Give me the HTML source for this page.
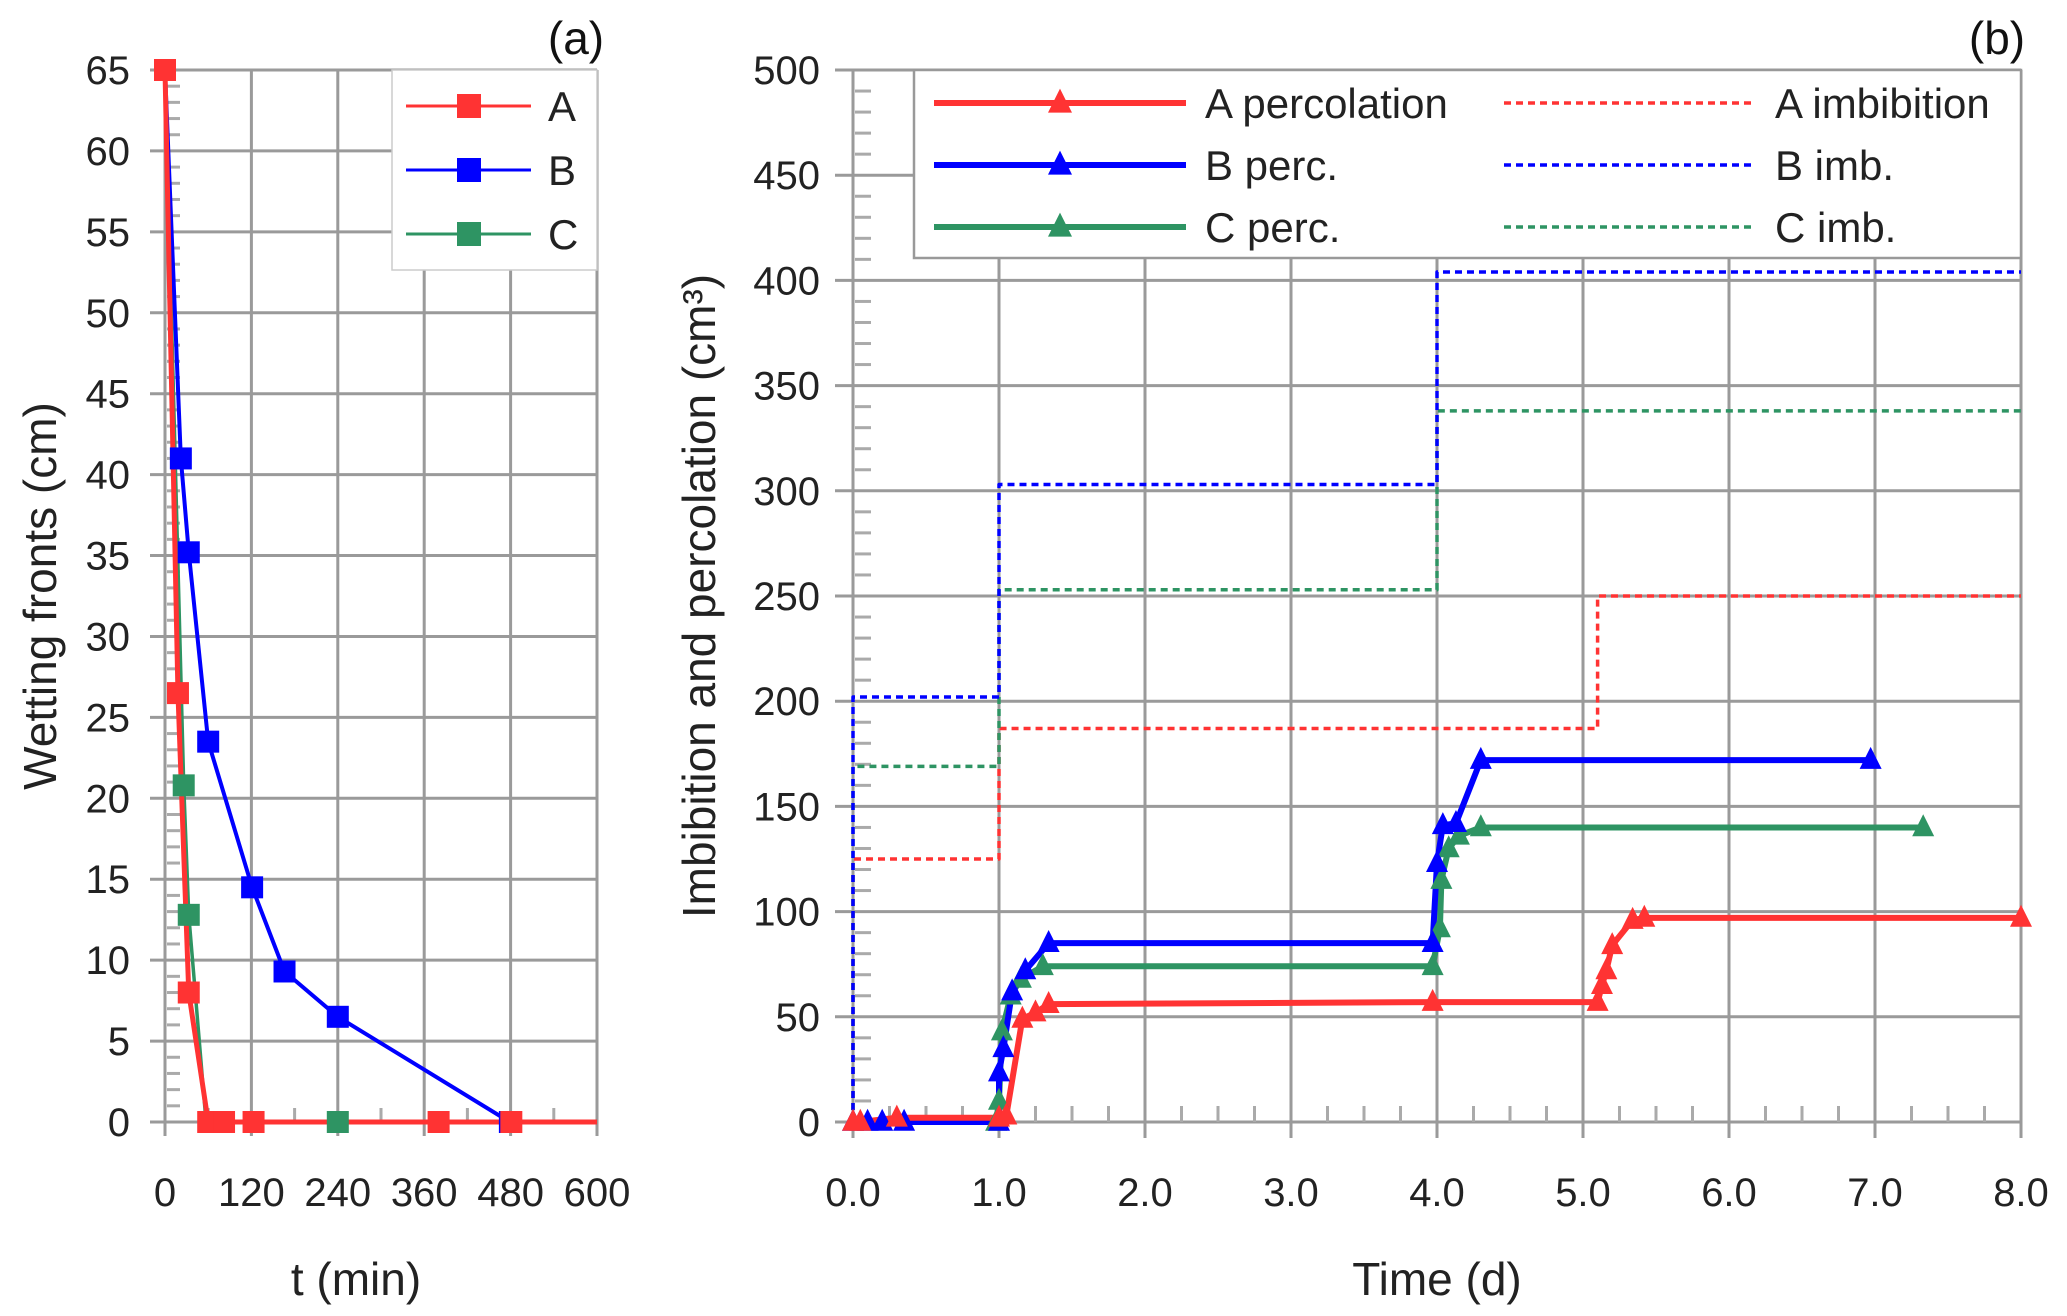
<!DOCTYPE html>
<html><head><meta charset="utf-8"><style>
html,body{margin:0;padding:0;background:#fff}
svg{display:block;font-family:"Liberation Sans",Arial,sans-serif}
</style></head><body>
<svg id="chart" width="2067" height="1316" viewBox="0 0 2067 1316" xmlns="http://www.w3.org/2000/svg">
<g id="pa"></g>
<g id="pb"></g>
</svg>
<script>
// Panel (a) data
const aTicksX = [0,120,240,360,480,600];
const aTicksY = [0,5,10,15,20,25,30,35,40,45,50,55,60,65];
const aA_t = [0,18,33,60,82,123,380,481,600];
const aA_y = [65,26.5,8,0,0,0,0,0,0];
const aA_mk = [0,18,33,60,82,123,380,481];
const aA_mky = [65,26.5,8,0,0,0,0,0];
const aB_t = [0,22,33,60,121,166,240,479];
const aB_y = [65,41,35.2,23.5,14.5,9.3,6.5,0];
const aC_t = [0,26,33,57,240];
const aC_y = [65,20.8,12.8,0,0];
const aC_mk = [26,33,240];
const aC_mky = [20.8,12.8,0];

// Panel (b) data
const bTicksX = [0,1,2,3,4,5,6,7,8];
const bTicksY = [0,50,100,150,200,250,300,350,400,450,500];
const impA_t = [0,0,1,1,5.1,5.1,8];
const impA_y = [0,125,125,187,187,250,250];
const impB_t = [0,0,1,1,4,4,8];
const impB_y = [0,202,202,303,303,404,404];
const impC_t = [0,0,1,1,4,4,8];
const impC_y = [0,169,169,253,253,338,338];
const percA_t = [0,0.05,0.3,1.0,1.05,1.16,1.25,1.34,3.97,5.1,5.13,5.16,5.2,5.34,5.42,8.0];
const percA_y = [0,0,2,2,3,49,52,56,57,57,65,72,84,96,97,97];
const percB_t = [0,0.1,0.2,0.35,1.0,1.0,1.03,1.09,1.18,1.34,3.97,4.0,4.04,4.13,4.3,6.97];
const percB_y = [0,0,0,0,0,23.5,35,62,72,85,85,123,141,142,172,172];
const percC_t = [0.98,1.0,1.02,1.08,1.15,1.3,3.97,4.02,4.03,4.08,4.15,4.3,7.33];
const percC_y = [0,10,43,60,68,74,74,92,115,130,136,140,140];

const NS="http://www.w3.org/2000/svg";
function mk(parent,tag,attrs){const e=document.createElementNS(NS,tag);for(const k in attrs)e.setAttribute(k,attrs[k]);parent.appendChild(e);return e;}
const GRID="#9a9a9a", TXT="#222";
const TF=40, AF=46, LF=42;

// ---------- Panel a ----------
const pa=document.getElementById('pa');
const ax=t=>165+(t/600)*(597-165);
const ay=v=>1122-(v/65)*(1122-70);
for(const v of aTicksY){
  const l=mk(pa,'line',{x1:150,x2:597,y1:ay(v),y2:ay(v),stroke:GRID,'stroke-width':3});
  
  
  const t=mk(pa,'text',{x:130,y:ay(v)+14,'text-anchor':'end','font-size':TF,fill:TXT});
  t.textContent=v;
  
  
}
for(let v=0;v<65;v++){ if(v%5) {const l=mk(pa,'line',{x1:167,x2:180,y1:ay(v),y2:ay(v),stroke:"#aaa",'stroke-width':3});
  
  }}
for(let v=60;v<600;v+=60){ if(v%120){const l=mk(pa,'line',{x1:ax(v),x2:ax(v),y1:1108,y2:1122,stroke:"#aaa",'stroke-width':3});
  
  }}
for(const v of aTicksX){
  const l=mk(pa,'line',{x1:ax(v),x2:ax(v),y1:70,y2:1136,stroke:GRID,'stroke-width':3});
  
  
  const t=mk(pa,'text',{x:ax(v),y:1206,'text-anchor':'middle','font-size':TF,fill:TXT});
  t.textContent=v;
  
  
}
function poly(g,xs,ys,fx,fy,color,w,dash){
  const pts=xs.map((x,i)=>fx(x)+','+fy(ys[i])).join(' ');
  const a={points:pts,fill:'none',stroke:color,'stroke-width':w,'stroke-linejoin':'round'};
  if(dash)a['stroke-dasharray']=dash;
  return mk(g,'polyline',a);
}
function sq(g,x,y,c,s){return mk(g,'rect',{x:x-s/2,y:y-s/2,width:s,height:s,fill:c});}
const cR="#ff3333",cB="#0000ff",cG="#2e9463";
let p;
p=poly(pa,aC_t,aC_y,ax,ay,cG,3.5);


p=poly(pa,aB_t,aB_y,ax,ay,cB,4);


p=poly(pa,aA_t,aA_y,ax,ay,cR,5);


aC_mk.forEach((t,i)=>{const r=sq(pa,ax(t),ay(aC_mky[i]),cG,22);
  
  });
aB_t.forEach((t,i)=>{const r=sq(pa,ax(t),ay(aB_y[i]),cB,22);
  
  });
aA_mk.forEach((t,i)=>{const r=sq(pa,ax(t),ay(aA_mky[i]),cR,22);
  
  });
// legend a
const lga=mk(pa,'g',{});


mk(lga,'rect',{x:392,y:70,width:205,height:200,fill:'#fff',stroke:'#ccc','stroke-width':1.5});
[['A',cR],['B',cB],['C',cG]].forEach((d,i)=>{
  const y=106+i*64;
  const g=mk(lga,'g',{});
  
  
  mk(g,'line',{x1:406,x2:531,y1:y,y2:y,stroke:d[1],'stroke-width':3});
  sq(g,469,y,d[1],24);
  const t=mk(g,'text',{x:548,y:y+15,'font-size':LF,fill:TXT});t.textContent=d[0];
});
let tt=mk(pa,'text',{x:356,y:1295,'text-anchor':'middle','font-size':AF,fill:TXT});tt.textContent='t (min)';

tt=mk(pa,'text',{x:0,y:0,'text-anchor':'middle','font-size':AF,fill:TXT,transform:'translate(56,596) rotate(-90)'});tt.textContent='Wetting fronts (cm)';

tt=mk(pa,'text',{x:576,y:54,'text-anchor':'middle','font-size':AF,fill:'#111'});tt.textContent='(a)';


// ---------- Panel b ----------
const pb=document.getElementById('pb');
const bx=t=>853+(t/8)*(2021-853);
const by=v=>1122-(v/500)*(1122-70);
for(const v of bTicksY){
  const l=mk(pb,'line',{x1:835,x2:2021,y1:by(v),y2:by(v),stroke:GRID,'stroke-width':3});
  
  
  const t=mk(pb,'text',{x:820,y:by(v)+14,'text-anchor':'end','font-size':TF,fill:TXT});
  t.textContent=v;
  
  
}
for(let v=10;v<500;v+=10){ if(v%50){const l=mk(pb,'line',{x1:855,x2:871,y1:by(v),y2:by(v),stroke:"#aaa",'stroke-width':3});
  }}
for(let v=0.25;v<8;v+=0.25){ if(Math.abs(v-Math.round(v))>0.01){const l=mk(pb,'line',{x1:bx(v),x2:bx(v),y1:1106,y2:1122,stroke:"#aaa",'stroke-width':3});
  }}
for(const v of bTicksX){
  const l=mk(pb,'line',{x1:bx(v),x2:bx(v),y1:70,y2:1138,stroke:GRID,'stroke-width':3});
  
  
  const t=mk(pb,'text',{x:bx(v),y:1206,'text-anchor':'middle','font-size':TF,fill:TXT});
  t.textContent=v.toFixed(1);
  
  
}
function tri(g,x,y,c,s){return mk(g,'polygon',{points:`${x},${y-s*0.6} ${x-s/2},${y+s*0.4} ${x+s/2},${y+s*0.4}`,fill:c});}
p=poly(pb,impA_t,impA_y,bx,by,cR,3.5,'7,5');

p=poly(pb,impC_t,impC_y,bx,by,cG,3.5,'7,5');

p=poly(pb,impB_t,impB_y,bx,by,cB,3.5,'7,5');

p=poly(pb,percC_t,percC_y,bx,by,cG,6);

p=poly(pb,percB_t,percB_y,bx,by,cB,6);

p=poly(pb,percA_t,percA_y,bx,by,cR,6);

percC_t.forEach((t,i)=>{const r=tri(pb,bx(t),by(percC_y[i]),cG,22);
  });
percB_t.forEach((t,i)=>{const r=tri(pb,bx(t),by(percB_y[i]),cB,22);
  });
percA_t.forEach((t,i)=>{const r=tri(pb,bx(t),by(percA_y[i]),cR,22);
  });
// legend b
const lgb=mk(pb,'g',{});


mk(lgb,'rect',{x:914,y:70,width:1107,height:188,fill:'#fff',stroke:'#999','stroke-width':2.5});
const lgItems=[['A percolation',cR,0],['B perc.',cB,0],['C perc.',cG,0],['A imbibition',cR,1],['B imb.',cB,1],['C imb.',cG,1]];
lgItems.forEach((d,i)=>{
  const row=i%3, y=103+row*62;
  const g=mk(lgb,'g',{});
  
  
  if(d[2]===0){
    mk(g,'line',{x1:934,x2:1186,y1:y,y2:y,stroke:d[1],'stroke-width':6});
    tri(g,1060,y,d[1],24);
    const t=mk(g,'text',{x:1205,y:y+15,'font-size':LF,fill:TXT});t.textContent=d[0];
  } else {
    mk(g,'line',{x1:1504,x2:1754,y1:y,y2:y,stroke:d[1],'stroke-width':3.5,'stroke-dasharray':'7,5'});
    const t=mk(g,'text',{x:1775,y:y+15,'font-size':LF,fill:TXT});t.textContent=d[0];
  }
});
tt=mk(pb,'text',{x:1437,y:1295,'text-anchor':'middle','font-size':AF,fill:TXT});tt.textContent='Time (d)';

tt=mk(pb,'text',{x:0,y:0,'text-anchor':'middle','font-size':AF,fill:TXT,transform:'translate(715,596) rotate(-90)'});tt.textContent='Imbibition and percolation (cm³)';

tt=mk(pb,'text',{x:1997,y:54,'text-anchor':'middle','font-size':AF,fill:'#111'});tt.textContent='(b)';

</script>
</body></html>
